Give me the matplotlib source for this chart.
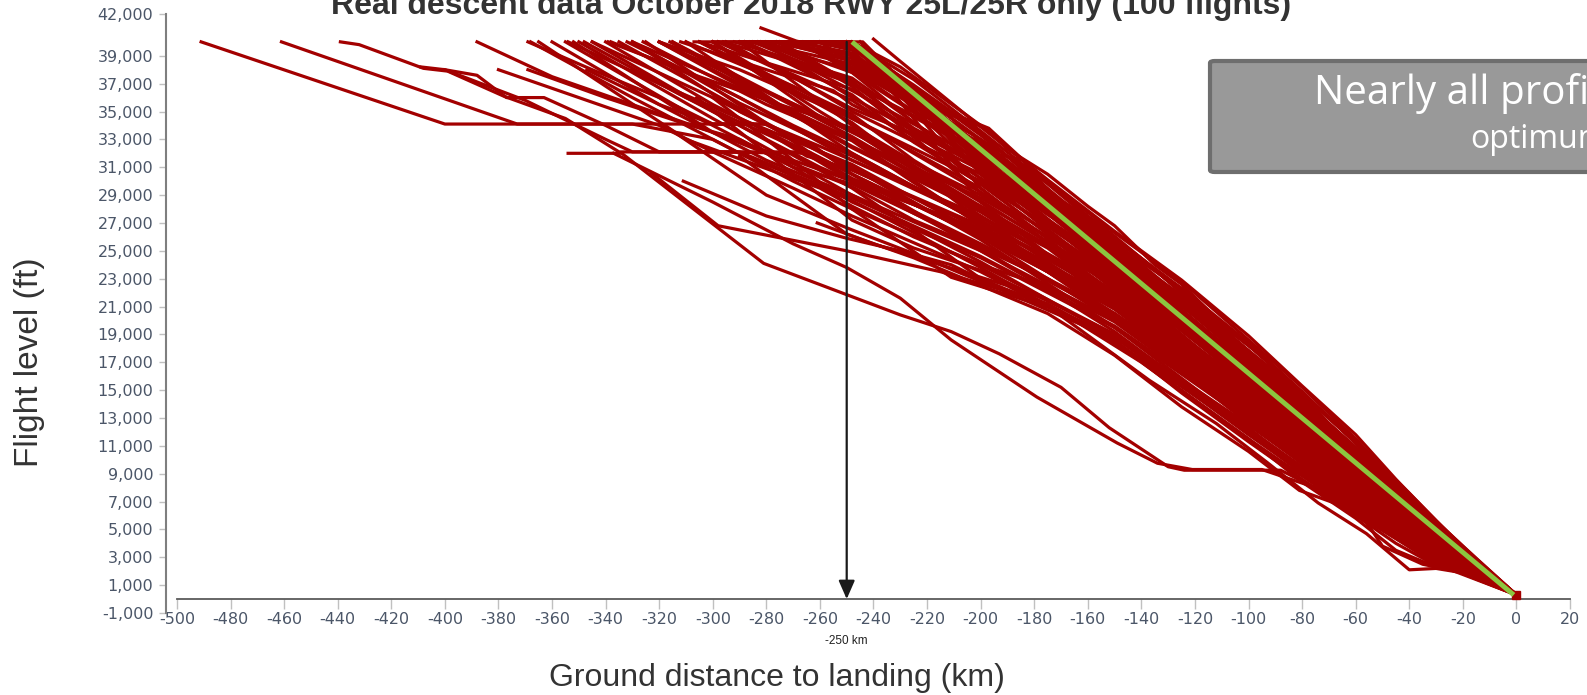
import matplotlib
matplotlib.use('Agg')
import matplotlib.pyplot as plt
from matplotlib.patches import FancyBboxPatch

# flight profiles: (distance to landing km, flight level in 1000 ft)
far_flights = [
    [(-491, 40), (-400, 34.1), (-280, 34.1), (-262, 32.5), (-248, 30.5), (-200, 26), (-150, 20), (-100, 13), (-60, 7.5), (-30, 3.5), (0, 0.3)],
    [(-461, 40), (-373, 34.1), (-330, 34.1), (-300, 33), (-270, 30), (-248, 28), (-200, 24), (-150, 19), (-100, 12.5), (-60, 7), (-30, 3), (0, 0.3)],
    [(-439, 40), (-432, 39.8), (-408, 38.1), (-399, 37.9), (-378, 36.1), (-355, 34.5), (-335, 32.1), (-300, 32.1), (-270, 29.5), (-248, 27.5), (-200, 23.5), (-150, 18.5), (-100, 12), (-60, 6.8), (-30, 2.8), (0, 0.3)],
    [(-409, 38.2), (-400, 38), (-370, 35.8), (-340, 33), (-330, 32.1), (-264, 32.1), (-248, 30.5), (-200, 25), (-150, 19.5), (-100, 13), (-60, 7.5), (-30, 3.5), (0, 0.3)],
    [(-388, 40), (-360, 37.5), (-330, 35.5), (-300, 33.5), (-270, 31.5), (-248, 30), (-200, 26.5), (-150, 20.5), (-100, 14), (-60, 8), (-30, 4), (0, 0.3)],
    [(-380, 38), (-365, 37), (-350, 36), (-320, 34), (-300, 32.1), (-264, 32), (-248, 30.2), (-200, 26.3), (-150, 21.1), (-100, 13.9), (-60, 7.9), (-30, 3.5), (0, 0.3)],
    [(-369, 38), (-340, 36), (-310, 34.1), (-290, 33), (-270, 31), (-248, 29.8), (-200, 25.4), (-150, 20.3), (-100, 13.3), (-60, 7.5), (-30, 3.3), (0, 0.3)],
    [(-369, 40), (-345, 38), (-320, 36), (-300, 34.1), (-280, 34.1), (-260, 32.5), (-248, 31.5), (-200, 27.2), (-150, 21.6), (-100, 14.4), (-60, 8.3), (-30, 3.7), (0, 0.3)],
    [(-400, 38), (-388, 37.6), (-377, 36), (-363, 36), (-340, 34), (-320, 32.1), (-290, 32.1), (-270, 30.5), (-248, 28.8), (-200, 24.6), (-150, 19.6), (-100, 12.9), (-60, 7.3), (-30, 3.2), (0, 0.3)],
    [(-347, 38), (-320, 35.5), (-300, 34.1), (-285, 34.1), (-265, 31.8), (-248, 30.8), (-200, 26.8), (-150, 21.4), (-100, 14.1), (-60, 8.2), (-30, 3.6), (0, 0.3)],
]

low_flights = [
    [(-354, 32), (-334, 32), (-281, 24.1), (-230, 20.4), (-211, 19.2), (-193, 17.6), (-170, 15.2), (-152, 12.3), (-130, 9.5), (-124, 9.25), (-88, 9.25), (-70, 7.5), (-50, 5), (-30, 2.8), (0, 0.3)],
    [(-337, 32), (-300, 28.5), (-270, 25.5), (-250, 23.8), (-230, 21.6), (-211, 18.6), (-179, 14.5), (-149, 11.2), (-134, 9.75), (-121, 9.3), (-95, 9.3), (-75, 8), (-55, 5.5), (-30, 2.6), (0, 0.3)],
    [(-330, 38), (-290, 34), (-248, 29.5), (-225, 26.5), (-200, 23), (-175, 21), (-150, 18.5), (-125, 15), (-100, 11.5), (-80, 8.4), (-60, 5.8), (-45, 3.5), (-30, 2.3), (-15, 1.8), (0, 0.3)],
    [(-300, 36), (-270, 31.5), (-248, 28), (-211, 23.1), (-174, 20.9), (-137, 15.7), (-112, 12.6), (-93, 9.8), (-74, 6.9), (-56, 4.7), (-40, 2.1), (-30, 2.2), (-11, 1.6), (0, 0.3)],
    [(-290, 31.8), (-250, 26.2), (-225, 24.5), (-200, 22.5), (-175, 20.5), (-150, 17.5), (-125, 13.8), (-100, 10.6), (-81, 7.8), (-68, 6.9), (-57, 5.8), (-50, 3.8), (-35, 2.5), (-20, 1.9), (0, 0.3)],
    [(-311, 30), (-280, 27.5), (-250, 25.9), (-230, 25), (-211, 24), (-190, 22), (-160, 19.5), (-130, 16), (-100, 12), (-80, 9), (-60, 6.5), (-40, 4), (-20, 2.2), (0, 0.3)],
    [(-323, 30.6), (-298, 26.8), (-250, 25), (-215, 23.5), (-180, 21.5), (-150, 18.8), (-120, 15), (-100, 12.3), (-75, 8.5), (-55, 6), (-35, 3.5), (-15, 1.9), (0, 0.3)],
    [(-261, 27), (-240, 25.5), (-215, 24), (-190, 22.5), (-165, 20), (-140, 17), (-115, 13.5), (-90, 10), (-68, 7.5), (-50, 5), (-30, 2.8), (0, 0.3)],
    [(-306, 36), (-270, 30.5), (-248, 27.2), (-225, 25.2), (-200, 23.6), (-175, 21.4), (-150, 19), (-125, 15.5), (-100, 12.2), (-80, 9.2), (-60, 6.6), (-45, 4.4), (-30, 2.6), (-15, 1.7), (0, 0.3)],
    [(-318, 34), (-280, 29), (-248, 26.5), (-225, 24.8), (-200, 22.8), (-175, 21.2), (-150, 18.6), (-125, 14.8), (-100, 11.3), (-80, 8.6), (-60, 6), (-45, 4), (-30, 2.4), (-15, 1.7), (0, 0.3)],
]

top_flights = [
    [(-307, 40), (-248, 40), (-225, 37.3), (-200, 33.6), (-175, 29.8), (-150, 25.8), (-125, 22.2), (-100, 18.2), (-80, 14.8), (-60, 11.3), (-40, 7.6), (-20, 3.7), (0, 0.3)],
    [(-282, 41), (-268, 40), (-244, 40), (-232, 37.7), (-212, 34.8), (-198, 33.8), (-190, 32.3), (-175, 30.5), (-160, 28.2), (-150, 26.8), (-135, 24), (-125, 22.6), (-110, 19.8), (-100, 18.3), (-82, 15.1), (-62, 11.7), (-43, 7.9), (-20, 3.8), (0, 0.3)],
    [(-262, 40), (-248, 39.5), (-225, 36.5), (-200, 33), (-185, 31.2), (-170, 28.6), (-156, 27), (-139, 24.3), (-125, 22), (-105, 18.6), (-90, 16.3), (-75, 13.6), (-60, 10.6), (-40, 6.6), (-20, 3.4), (0, 0.3)],
    [(-275, 40), (-248, 39), (-230, 36.5), (-210, 33.8), (-200, 32.2), (-184, 31.5), (-171, 28.4), (-150, 25.5), (-130, 22.9), (-124, 22.2), (-110, 19.5), (-95, 17), (-80, 14.3), (-62, 11.2), (-45, 8.1), (-30, 5.3), (-15, 2.7), (0, 0.3)],
    [(-250, 40), (-236, 38.4), (-210, 34), (-200, 32.5), (-180, 29.8), (-160, 27), (-144, 25), (-124, 21.9), (-106, 18.6), (-82, 15), (-62, 11.6), (-43, 7.8), (-20, 3.7), (0, 0.3)],
    [(-268, 40), (-248, 38), (-220, 35), (-200, 32), (-175, 28.5), (-150, 25), (-125, 21), (-100, 17.5), (-80, 14), (-60, 10.3), (-40, 6.8), (-20, 3.5), (0, 0.3)],
    [(-245, 40), (-236, 38.4), (-220, 35.6), (-197, 33.8), (-184, 31.5), (-157, 27), (-139, 24.3), (-118, 20.8), (-96, 17.6), (-70, 13), (-50, 9.4), (-30, 5.4), (-10, 1.8), (0, 0.3)],
    [(-240, 40.2), (-230, 38.6), (-200, 33.9), (-175, 30.1), (-150, 26.4), (-125, 22.9), (-100, 18.9), (-80, 15.3), (-60, 11.8), (-45, 8.6), (-30, 5.6), (-15, 2.9), (0, 0.3)],
]

core_flights = [
    [(-340, 40), (-300, 35.5), (-248, 30.5), (-200, 26), (-150, 21), (-100, 14), (-60, 8), (-30, 3.5), (0, 0.3)],
    [(-332, 40), (-290, 36), (-248, 31.5), (-200, 27.5), (-150, 22), (-100, 15), (-60, 8.5), (-30, 4), (0, 0.3)],
    [(-320, 40), (-280, 36), (-248, 32.5), (-200, 28), (-150, 22.5), (-100, 14.5), (-60, 8.2), (-30, 3.8), (0, 0.3)],
    [(-315, 40), (-280, 36.5), (-248, 33.5), (-200, 29), (-150, 23), (-100, 15.5), (-60, 9), (-30, 4.2), (0, 0.3)],
    [(-305, 40), (-275, 37), (-248, 34.5), (-200, 30), (-150, 23.5), (-100, 16), (-60, 9.3), (-30, 4.4), (0, 0.3)],
    [(-298, 40), (-270, 37.5), (-248, 35), (-200, 30.5), (-150, 24), (-100, 15.8), (-60, 9), (-30, 4.1), (0, 0.3)],
    [(-288, 40), (-265, 38), (-248, 36), (-200, 31), (-150, 24.5), (-100, 16.5), (-60, 9.8), (-30, 4.6), (0, 0.3)],
    [(-283, 40), (-248, 36.5), (-200, 31.5), (-150, 23.8), (-100, 15.2), (-60, 8.6), (-30, 3.9), (0, 0.3)],
    [(-275, 40), (-248, 37), (-200, 32), (-150, 24.8), (-100, 16.8), (-60, 10), (-30, 4.8), (0, 0.3)],
    [(-268, 40), (-248, 37.8), (-200, 31.8), (-150, 24.2), (-100, 16), (-60, 9.5), (-30, 4.4), (0, 0.3)],
    [(-260, 40), (-248, 38.5), (-200, 32.5), (-150, 25.2), (-100, 17), (-60, 10.2), (-30, 4.9), (0, 0.3)],
    [(-290, 40), (-248, 34), (-200, 28.5), (-150, 22.8), (-100, 15), (-60, 8.8), (-30, 4), (0, 0.3)],
    [(-300, 40), (-248, 33), (-200, 27.8), (-150, 21.5), (-100, 14.2), (-60, 8.1), (-30, 3.6), (0, 0.3)],
    [(-310, 40), (-248, 32), (-200, 27), (-150, 21.8), (-100, 14.6), (-60, 8.4), (-30, 3.8), (0, 0.3)],
    [(-325, 40), (-248, 30), (-200, 25.5), (-150, 20.5), (-100, 13.5), (-60, 7.6), (-30, 3.3), (0, 0.3)],
    [(-350, 40), (-300, 34.5), (-248, 29), (-200, 25), (-150, 20), (-100, 13.2), (-60, 7.4), (-30, 3.2), (0, 0.3)],
    [(-355, 40), (-310, 35), (-270, 31), (-248, 28.5), (-200, 24.5), (-150, 19.5), (-100, 12.8), (-60, 7.2), (-30, 3), (0, 0.3)],
    [(-348, 40), (-310, 36), (-270, 32.5), (-248, 30), (-200, 26.5), (-150, 21.2), (-100, 13.8), (-60, 7.8), (-30, 3.4), (0, 0.3)],
    [(-338, 40), (-300, 37), (-270, 34), (-248, 32), (-200, 27), (-150, 22), (-100, 14.8), (-60, 8.6), (-30, 3.9), (0, 0.3)],
    [(-330, 40), (-300, 37.5), (-270, 35), (-248, 33), (-200, 28.8), (-150, 23.2), (-100, 15.6), (-60, 9.1), (-30, 4.3), (0, 0.3)],
    [(-320, 40), (-290, 38), (-260, 35.5), (-248, 34.5), (-200, 29.5), (-150, 22.2), (-100, 14.3), (-60, 8.3), (-30, 3.7), (0, 0.3)],
    [(-312, 40), (-280, 38), (-255, 36.5), (-248, 35.5), (-200, 30.8), (-150, 23.6), (-100, 15.4), (-60, 8.9), (-30, 4.2), (0, 0.3)],
    [(-296, 40), (-270, 38.5), (-248, 37), (-200, 32.2), (-150, 25), (-100, 16.2), (-60, 9.4), (-30, 4.5), (0, 0.3)],
    [(-286, 40), (-248, 38), (-225, 35), (-200, 32.8), (-150, 25.5), (-100, 17.4), (-60, 10.4), (-30, 5), (0, 0.3)],
    [(-278, 40), (-248, 38.8), (-225, 35.8), (-200, 33), (-150, 25.3), (-100, 17.2), (-60, 10.8), (-30, 5.2), (0, 0.3)],
    [(-270, 40), (-248, 39.2), (-225, 36), (-200, 32.6), (-150, 24.6), (-100, 16.6), (-60, 10.1), (-30, 4.7), (0, 0.3)],
    [(-256, 40), (-248, 39.6), (-225, 36.2), (-200, 31.2), (-150, 23.4), (-100, 15.3), (-60, 8.7), (-30, 4), (0, 0.3)],
    [(-250, 40), (-225, 36.6), (-200, 32.9), (-150, 24.5), (-100, 15.9), (-60, 9.2), (-30, 4.3), (0, 0.3)],
    [(-248, 40), (-225, 36.8), (-200, 33.3), (-150, 25.6), (-100, 17.7), (-60, 10.9), (-30, 5.1), (0, 0.3)],
    [(-290, 40), (-248, 40), (-225, 36.4), (-200, 32.4), (-150, 24.3), (-100, 16.4), (-60, 9.7), (-30, 4.6), (0, 0.3)],
    [(-280, 40), (-248, 40), (-225, 35.6), (-200, 31), (-150, 23), (-100, 15), (-60, 8.6), (-30, 3.9), (0, 0.3)],
    [(-272, 40), (-248, 40), (-230, 37), (-200, 30.5), (-150, 22.4), (-100, 14.4), (-60, 8), (-30, 3.6), (0, 0.3)],
    [(-264, 40), (-248, 40), (-230, 36.2), (-200, 29.5), (-150, 21.6), (-100, 13.8), (-60, 7.7), (-30, 3.4), (0, 0.3)],
    [(-258, 40), (-248, 40), (-225, 34.5), (-200, 28.5), (-150, 21), (-100, 13.4), (-60, 7.5), (-30, 3.2), (0, 0.3)],
    [(-300, 40), (-265, 36), (-248, 34.2), (-200, 27.2), (-150, 20.4), (-100, 13), (-60, 7.3), (-30, 3.1), (0, 0.3)],
    [(-315, 40), (-275, 35.5), (-248, 33), (-200, 26.8), (-150, 20.2), (-100, 12.6), (-60, 7), (-30, 3), (0, 0.3)],
    [(-330, 40), (-290, 35), (-248, 31), (-200, 25.8), (-150, 19.5), (-100, 12.2), (-60, 6.8), (-30, 2.9), (0, 0.3)],
    [(-345, 40), (-300, 35), (-260, 31), (-248, 30), (-200, 25.2), (-150, 19.2), (-100, 12), (-60, 6.6), (-30, 2.7), (0, 0.3)],
    [(-360, 40), (-320, 35.5), (-280, 31.5), (-248, 29), (-200, 24.2), (-150, 18.8), (-100, 11.8), (-60, 6.4), (-30, 2.6), (0, 0.3)],
    [(-368, 40), (-330, 36), (-290, 32), (-248, 28.6), (-200, 23.8), (-150, 18.4), (-100, 11.5), (-60, 6.2), (-30, 2.5), (0, 0.3)],
    [(-354, 40), (-320, 37), (-290, 34.5), (-248, 31.2), (-200, 26.2), (-150, 20.8), (-100, 13.6), (-60, 7.9), (-30, 3.5), (0, 0.3)],
    [(-339, 40), (-305, 37.5), (-275, 35.5), (-248, 33.8), (-200, 28.2), (-150, 22.6), (-100, 15.1), (-60, 9), (-30, 4.2), (0, 0.3)],
    [(-305, 40), (-280, 38.5), (-248, 36.6), (-200, 30.2), (-150, 22.9), (-100, 14.9), (-60, 8.5), (-30, 3.9), (0, 0.3)],
    [(-292, 40), (-248, 37.4), (-200, 30.8), (-150, 23.3), (-100, 15.7), (-60, 9.2), (-30, 4.2), (0, 0.3)],
    [(-282, 40), (-248, 37.2), (-200, 29.8), (-150, 22.7), (-100, 14.7), (-60, 8.4), (-30, 3.8), (0, 0.3)],
    [(-276, 40), (-248, 36.8), (-200, 29.2), (-150, 21.9), (-100, 14.1), (-60, 8.1), (-30, 3.6), (0, 0.3)],
    [(-320, 40), (-248, 33.6), (-200, 28), (-150, 21.3), (-100, 14), (-60, 8), (-30, 3.6), (0, 0.3)],
    [(-298, 40), (-248, 35.8), (-200, 29.8), (-150, 23.9), (-100, 16.3), (-60, 9.6), (-30, 4.5), (0, 0.3)],
    [(-284, 40), (-248, 38.4), (-200, 32.4), (-150, 25.1), (-100, 17.1), (-60, 10.5), (-30, 5), (0, 0.3)],
    [(-266, 40), (-248, 39), (-200, 31.6), (-150, 24), (-100, 16.1), (-60, 9.3), (-30, 4.4), (0, 0.3)],
]

mid_flights = [
    [(-310, 40), (-270, 36.8), (-248, 34.6), (-225, 32), (-200, 29.2), (-175, 26.4), (-150, 23.2), (-125, 19.6), (-100, 15.6), (-80, 12.4), (-60, 9.1), (-45, 6.6), (-30, 4.3), (-15, 2.2), (0, 0.3)],
    [(-295, 40), (-248, 35.2), (-225, 33.4), (-200, 30.2), (-175, 27.2), (-150, 23.8), (-125, 20.2), (-100, 16.6), (-80, 13.2), (-60, 9.8), (-45, 7.1), (-30, 4.7), (-15, 2.4), (0, 0.3)],
    [(-280, 40), (-248, 37.8), (-225, 34.2), (-200, 30.9), (-175, 27.6), (-150, 24.7), (-125, 21.2), (-100, 17.1), (-80, 13.8), (-60, 10.4), (-45, 7.6), (-30, 5), (-15, 2.6), (0, 0.3)],
    [(-270, 40), (-248, 38.2), (-225, 35.4), (-200, 31.5), (-175, 28.5), (-150, 25), (-125, 21.6), (-100, 17.8), (-80, 14.2), (-60, 10.7), (-45, 7.9), (-30, 5.2), (-15, 2.7), (0, 0.3)],
    [(-330, 40), (-290, 35.6), (-248, 31.8), (-225, 29.6), (-200, 27.4), (-175, 24.8), (-150, 22.1), (-125, 18.5), (-100, 14.8), (-80, 11.6), (-60, 8.5), (-45, 6.2), (-30, 4), (-15, 2.1), (0, 0.3)],
    [(-345, 40), (-300, 36), (-248, 31), (-225, 28.4), (-200, 26.1), (-175, 23.5), (-150, 20.4), (-125, 17.6), (-100, 14), (-80, 11), (-60, 8), (-45, 5.8), (-30, 3.7), (-15, 2), (0, 0.3)],
    [(-305, 40), (-248, 34.8), (-225, 31.5), (-200, 28.6), (-175, 25.6), (-150, 22.5), (-125, 18.9), (-100, 15.3), (-80, 12), (-60, 8.9), (-45, 6.5), (-30, 4.2), (-15, 2.2), (0, 0.3)],
    [(-262, 40), (-248, 39.4), (-225, 35.2), (-200, 30.6), (-175, 26.9), (-150, 23.6), (-125, 20), (-100, 16.3), (-80, 13), (-60, 9.6), (-45, 7), (-30, 4.5), (-15, 2.3), (0, 0.3)],
    [(-288, 40), (-248, 36.2), (-225, 32.8), (-200, 29.8), (-175, 26.2), (-150, 22.2), (-125, 18.2), (-100, 14.6), (-80, 11.3), (-60, 8.2), (-45, 6), (-30, 3.8), (-15, 2), (0, 0.3)],
    [(-320, 40), (-248, 32.4), (-225, 30.2), (-200, 27.8), (-175, 25.2), (-150, 21.6), (-125, 17.9), (-100, 14.2), (-80, 10.9), (-60, 7.8), (-45, 5.6), (-30, 3.5), (-15, 1.9), (0, 0.3)],
    [(-300, 40), (-260, 35), (-248, 33.6), (-225, 30.8), (-200, 27.5), (-175, 24.2), (-150, 21), (-125, 17.3), (-100, 13.6), (-80, 10.4), (-60, 7.5), (-45, 5.3), (-30, 3.3), (-15, 1.9), (0, 0.3)],
    [(-255, 40), (-248, 39.8), (-225, 36.9), (-200, 33.5), (-175, 29.2), (-150, 25.9), (-125, 22.3), (-100, 18.4), (-80, 14.9), (-60, 11.2), (-45, 8.2), (-30, 5.3), (-15, 2.7), (0, 0.3)],
    [(-290, 40), (-248, 40), (-230, 38.2), (-200, 34), (-185, 31.6), (-170, 29.2), (-150, 26.3), (-125, 22.8), (-100, 18.6), (-80, 15.2), (-60, 11.5), (-45, 8.4), (-30, 5.5), (-15, 2.8), (0, 0.3)],
    [(-300, 40), (-248, 40), (-225, 36), (-200, 31.3), (-175, 27.9), (-150, 24.9), (-125, 21.5), (-100, 17.6), (-80, 14), (-60, 10.5), (-45, 7.5), (-30, 4.9), (-15, 2.5), (0, 0.3)],
    [(-335, 40), (-248, 30.8), (-225, 28.8), (-200, 26.6), (-175, 24), (-150, 20.9), (-125, 17.1), (-100, 13.4), (-80, 10.2), (-60, 7.2), (-45, 5.1), (-30, 3.1), (-15, 1.8), (0, 0.3)],
    [(-365, 40), (-310, 33), (-260, 29.5), (-248, 28.2), (-225, 26), (-200, 24), (-175, 22.4), (-150, 19.9), (-125, 16.4), (-100, 12.8), (-80, 9.7), (-60, 6.9), (-45, 4.7), (-30, 2.9), (-15, 1.8), (0, 0.3)],
    [(-352, 40), (-300, 33.5), (-248, 29.6), (-225, 27.2), (-200, 25.2), (-175, 23), (-150, 20.1), (-125, 16.8), (-100, 13.1), (-80, 10), (-60, 7.1), (-45, 4.9), (-30, 3), (-15, 1.8), (0, 0.3)],
    [(-276, 40), (-248, 38.6), (-225, 35.6), (-200, 32.1), (-175, 28.9), (-150, 25.4), (-125, 21.4), (-100, 17.3), (-80, 13.6), (-60, 10), (-45, 7.3), (-30, 4.6), (-15, 2.4), (0, 0.3)],
    [(-285, 40), (-248, 37), (-225, 33.8), (-200, 31.2), (-175, 28), (-150, 24.4), (-125, 20.6), (-100, 16.9), (-80, 13.4), (-60, 9.9), (-45, 7.2), (-30, 4.6), (-15, 2.4), (0, 0.3)],
    [(-316, 40), (-248, 33.2), (-225, 30.6), (-200, 28.2), (-175, 25.3), (-150, 22), (-125, 18.6), (-100, 15), (-80, 11.8), (-60, 8.7), (-45, 6.3), (-30, 4), (-15, 2.1), (0, 0.3)],
    [(-326, 40), (-280, 35.5), (-248, 32.9), (-225, 29.9), (-200, 27), (-175, 24.6), (-150, 21.4), (-125, 18), (-100, 14.4), (-80, 11.2), (-60, 8.1), (-45, 5.9), (-30, 3.7), (-15, 2), (0, 0.3)],
    [(-258, 40), (-248, 39.7), (-225, 35.9), (-200, 32.3), (-175, 28.7), (-150, 25.2), (-125, 21.8), (-100, 17.7), (-80, 14.4), (-60, 10.8), (-45, 8), (-30, 5.1), (-15, 2.6), (0, 0.3)],
]

optimum_line = [(-248, 40), (-1, 0.3)]
arrow_km = -250
x_ticks = list(range(-500, 21, 20))
y_ticks = list(range(-1000, 40000, 2000)) + [42000]

RED = '#a30000'

fig = plt.figure(figsize=(15.87, 6.95), dpi=100)
ax = fig.add_axes([177 / 1587, 1 - 613 / 695, (1570 - 177) / 1587, (613 - 14) / 695])

for group in (far_flights, low_flights, core_flights, mid_flights, top_flights):
    for flight in group:
        xs = [p[0] for p in flight]
        ys = [p[1] * 1000 for p in flight]
        ax.plot(xs, ys, color=RED, lw=2.3, solid_joinstyle='round', zorder=2)

ax.plot(0, 300, 's', color=RED, ms=6, zorder=3)

ax.plot([p[0] for p in optimum_line], [p[1] * 1000 for p in optimum_line],
        color='#8cc63f', lw=3.5, solid_capstyle='butt', zorder=4)

ax.annotate('', xy=(arrow_km, 0), xytext=(arrow_km, 40000),
            arrowprops=dict(arrowstyle='-|>,head_length=0.8,head_width=0.35',
                            color='#1a1a1a', lw=1.6, mutation_scale=14,
                            shrinkA=0, shrinkB=0), zorder=5)
ax.text(arrow_km, -2600, '-250 km', ha='center', va='top', fontsize=8.5,
        family='Liberation Sans', color='#222222', zorder=5)

ax.set_xlim(-500, 20)
ax.set_ylim(-1000, 42000)
ax.set_xticks(x_ticks)
ax.set_xticklabels([str(v) for v in x_ticks])
ax.set_yticks(y_ticks)
ax.set_yticklabels([f'{v:,}' for v in y_ticks])

for s in ('top', 'right'):
    ax.spines[s].set_visible(False)
ax.spines['left'].set_position(('outward', 8))
ax.spines['left'].set_color('#7f7f7f')
ax.spines['left'].set_linewidth(1.5)
ax.spines['bottom'].set_position(('data', 0))
ax.spines['bottom'].set_color('#5a5a5a')
ax.spines['bottom'].set_linewidth(1.3)

ax.tick_params(axis='both', colors='#c0c0c0', labelcolor='#4b5668', labelsize=11.5,
               direction='out', width=1)
ax.tick_params(axis='y', length=5, pad=4)
ax.tick_params(axis='x', length=7, pad=2)

fig.text(811 / 1587, 1 - 14 / 695, 'Real descent data October 2018 RWY 25L/25R only (100 flights)',
         ha='center', va='baseline', fontsize=23, fontweight='bold',
         family='Liberation Sans', color='#333333')
fig.text(777 / 1587, 1 - 678 / 695, 'Ground distance to landing (km)', ha='center', va='center',
         fontsize=23, family='Liberation Sans', color='#333333')
fig.text(30 / 1587, 1 - 362 / 695, 'Flight level (ft)', ha='center', va='center', rotation=90,
         fontsize=24, family='Liberation Sans', color='#333333')

box = FancyBboxPatch((1210 / 1587, 1 - 172 / 695), 500 / 1587, (172 - 61) / 695,
                     boxstyle='round,pad=0,rounding_size=0.003', transform=fig.transFigure,
                     facecolor='#999999', edgecolor='#6e6e6e', lw=3)
fig.add_artist(box)
fig.text(1314 / 1587, 1 - 93 / 695, 'Nearly all profiles', ha='left', va='center',
         fontsize=29, family='Open Sans', color='white')
fig.text(1470 / 1587, 1 - 140 / 695, 'optimum', ha='left', va='center',
         fontsize=23, family='Open Sans', color='white')

fig.savefig('out.png', dpi=100)
